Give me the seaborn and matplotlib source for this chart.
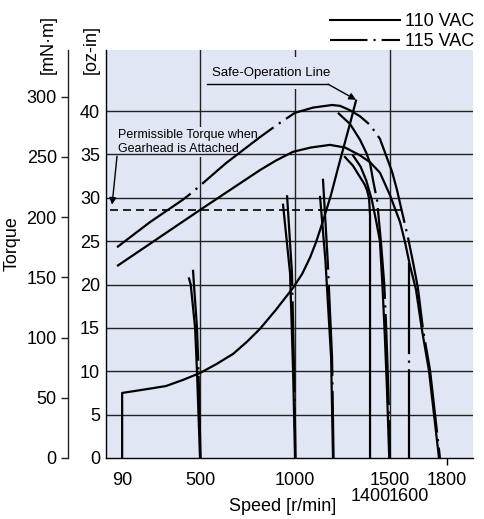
import matplotlib
matplotlib.use('Agg')
import matplotlib.pyplot as plt
from matplotlib.lines import Line2D
import seaborn as sns

# ---- data: speed [r/min], torque [oz-in] ----
speed_115_max = [63, 237, 411, 463, 637, 816, 911, 1000, 1095, 1195, 1237, 1289, 1342, 1395, 1447, 1479,
                 1511, 1537, 1563, 1595, 1621, 1647, 1674, 1711, 1763]
torque_115_max = [24.3, 27.2, 29.8, 30.7, 34.0, 37.0, 38.5, 39.8, 40.4, 40.7, 40.6, 40.1, 39.4, 38.4, 36.8, 34.9,
                  33.0, 30.9, 28.4, 25.4, 22.6, 19.6, 14.8, 10.1, 0]

speed_110_max = [68, 284, 500, 658, 816, 900, 989, 1084, 1184, 1263, 1342, 1395, 1447, 1500, 1553, 1579,
                 1605, 1637, 1668, 1705, 1758]
torque_110_max = [22.2, 25.4, 28.6, 30.9, 33.2, 34.3, 35.3, 35.8, 36.1, 35.8, 34.9, 34.1, 32.9, 30.3, 27.2, 24.9,
                  22.2, 19.4, 14.8, 10.1, 0]

speed_safe = [90, 90, 237, 321, 410, 500, 584, 674, 747, 816, 900, 989, 1037, 1079, 1111, 1147, 1189,
              1226, 1258, 1289, 1321]
torque_safe = [0, 7.5, 8.0, 8.3, 9.0, 9.8, 10.8, 12.0, 13.4, 14.9, 17.1, 19.6, 21.2, 23.1, 24.9, 27.3, 30.3,
               33.4, 36.0, 38.5, 41.2]

speed_110_500 = [442, 451, 474, 484, 492, 500]
torque_110_500 = [20.7, 20.0, 15.0, 10.0, 5.0, 0]
speed_115_500 = [463, 468, 484, 492, 497, 503]
torque_115_500 = [21.7, 20.0, 15.0, 10.0, 5.0, 0]

speed_110_1000 = [937, 974, 990, 1000]
torque_110_1000 = [29.2, 21.3, 10.0, 0]
speed_115_1000 = [958, 984, 995, 1003]
torque_115_1000 = [30.3, 21.3, 10.0, 0]

speed_110_1200 = [1132, 1160, 1190, 1200]
torque_110_1200 = [30.1, 22.8, 11.6, 0]
speed_115_1200 = [1147, 1172, 1195, 1203]
torque_115_1200 = [32.2, 22.8, 11.6, 0]

speed_110_1400 = [1263, 1305, 1342, 1365, 1379, 1390, 1395, 1395]
torque_110_1400 = [34.7, 33.7, 32.4, 31.6, 30.9, 29.9, 28.0, 0]

speed_110_1500 = [1305, 1345, 1375, 1405, 1430, 1447, 1460, 1473, 1484, 1496]
torque_110_1500 = [34.9, 33.6, 32.0, 29.7, 27.0, 25.0, 20.0, 14.0, 8.0, 0]
speed_115_1500 = [1226, 1290, 1342, 1375, 1395, 1411, 1432, 1452, 1470, 1480, 1488, 1495, 1500]
torque_115_1500 = [39.8, 38.5, 36.7, 35.2, 34.0, 32.0, 29.7, 25.0, 20.0, 15.0, 10.0, 5.0, 0]

speed_115_1600 = [1600, 1600]
torque_115_1600 = [22.5, 0]

permissible_torque = 28.6
permissible_dashed = [26, 1130]
permissible_solid = [1130, 1560]

speed_ticks = [90, 500, 1000, 1500, 1800]
speed_ticks_low = [1400, 1600]
speed_grid = [500, 1000, 1500]
ozin_ticks = [0, 5, 10, 15, 20, 25, 30, 35, 40]
mnm_ticks = [0, 50, 100, 150, 200, 250, 300]

bg = '#e1e6f4'
solid = '-'
dashdot = (0, (41, 2.9, 1, 2.9))

plt.rcParams['font.family'] = ['Liberation Sans', 'DejaVu Sans']

fig = plt.figure(figsize=(4.84, 5.19), dpi=100)
ax = fig.add_axes([106 / 484, 61 / 519, 367 / 484, 408 / 519])
ax.set_facecolor(bg)
ax.set_xlim(5, 1937)
ax.set_ylim(0, 47.04)

for v in speed_grid:
    ax.axvline(v, color='#222222', lw=1.0, zorder=1)
for h in ozin_ticks[1:]:
    ax.axhline(h, color='#222222', lw=1.0, zorder=2.5)


def draw(x, y, ls):
    sns.lineplot(x=x, y=y, sort=False, estimator=None, ax=ax, color='black',
                 linewidth=1.6, linestyle=ls, zorder=4)


draw(speed_115_max, torque_115_max, dashdot)
draw(speed_110_max, torque_110_max, solid)
draw(speed_safe, torque_safe, solid)
draw(speed_110_500, torque_110_500, solid)
draw(speed_115_500, torque_115_500, dashdot)
draw(speed_110_1000, torque_110_1000, solid)
draw(speed_115_1000, torque_115_1000, dashdot)
draw(speed_110_1200, torque_110_1200, solid)
draw(speed_115_1200, torque_115_1200, dashdot)
draw(speed_110_1400, torque_110_1400, solid)
draw(speed_110_1500, torque_110_1500, solid)
draw(speed_115_1500, torque_115_1500, dashdot)
draw(speed_115_1600, torque_115_1600, dashdot)

sns.lineplot(x=permissible_dashed, y=[permissible_torque] * 2, ax=ax, color='black',
             linewidth=1.2, linestyle=(0, (4.8, 3)), zorder=3)
sns.lineplot(x=permissible_solid, y=[permissible_torque] * 2, ax=ax, color='black',
             linewidth=1.2, zorder=3)

# annotations
ax.text(68, 35.25, 'Permissible Torque when\nGearhead is Attached', ha='left', va='baseline',
        fontsize=9, linespacing=1.3, zorder=2,
        bbox=dict(facecolor=bg, edgecolor='none', pad=1))
ax.annotate('', xy=(37, 29.2), xytext=(63, 34.8),
            arrowprops=dict(arrowstyle='-|>', color='black', lw=1.0, mutation_scale=10,
                            shrinkA=0, shrinkB=0), zorder=5)

ax.text(563, 44.4, 'Safe-Operation Line', ha='left', va='center', fontsize=9.5, zorder=2,
        bbox=dict(facecolor=bg, edgecolor='none', pad=7))
ax.plot([537, 1174], [43.1, 43.1], color='black', lw=1.0, zorder=5)
ax.annotate('', xy=(1321, 41.3), xytext=(1174, 43.1),
            arrowprops=dict(arrowstyle='-|>', color='black', lw=1.0, mutation_scale=10,
                            shrinkA=0, shrinkB=0), zorder=5)

# axes styling
for s in ['top', 'right']:
    ax.spines[s].set_visible(False)
for s in ['left', 'bottom']:
    ax.spines[s].set_color('black')
    ax.spines[s].set_linewidth(1.0)

ax.set_xticks(speed_ticks)
ax.set_xticklabels([str(t) for t in speed_ticks])
ax.set_xticks(speed_ticks_low, minor=True)
ax.set_xticklabels([str(t) for t in speed_ticks_low], minor=True)
ax.tick_params(axis='x', which='major', length=5, width=1, pad=5, labelsize=13, direction='out')
ax.tick_params(axis='x', which='minor', length=0, pad=21.6, labelsize=13)
for t in ax.xaxis.get_major_ticks()[:-1]:
    t.tick1line.set_visible(False)

ax.set_yticks(ozin_ticks)
ax.set_yticklabels([str(t) for t in ozin_ticks])
ax.tick_params(axis='y', length=0, pad=4.3, labelsize=13)
ax.set_xlabel('')
ax.set_ylabel('')

ax2 = ax.twinx()
ax2.set_ylim(0, 338.6)
for s in ['top', 'right', 'bottom']:
    ax2.spines[s].set_visible(False)
ax2.spines['left'].set_visible(True)
ax2.spines['left'].set_position(('outward', 27.4))
ax2.spines['left'].set_color('#222222')
ax2.spines['left'].set_linewidth(1.0)
ax2.yaxis.tick_left()
ax2.set_yticks(mnm_ticks)
ax2.set_yticklabels([str(t) for t in mnm_ticks])
ax2.tick_params(axis='y', which='both', left=True, right=False, labelleft=True, labelright=False,
                length=5, width=1, pad=3, labelsize=13, color='#222222')

ax.text(-0.158, 1.0135, '[mN·m]', rotation=90, ha='center', va='center', fontsize=13,
        transform=ax.transAxes)
ax.text(-0.041, 1.0, '[oz-in]', rotation=90, ha='center', va='center', fontsize=13,
        transform=ax.transAxes)
ax.text(-0.256, 0.5245, 'Torque', rotation=90, ha='center', va='center', fontsize=13,
        transform=ax.transAxes)
ax.text(0.482, -0.12, 'Speed [r/min]', ha='center', va='center', fontsize=13,
        transform=ax.transAxes)

handles = [Line2D([], [], color='black', lw=1.5),
           Line2D([], [], color='black', lw=1.5, linestyle=(0, (18, 2.9, 1, 2.9)))]
fig.legend(handles, ['110 VAC', '115 VAC'], loc='upper right', bbox_to_anchor=(0.979, 0.974),
           frameon=False, fontsize=13, handlelength=3.9, handletextpad=0.25,
           labelspacing=0.15, borderpad=0, borderaxespad=0)

fig.savefig('out.png', dpi=100)
